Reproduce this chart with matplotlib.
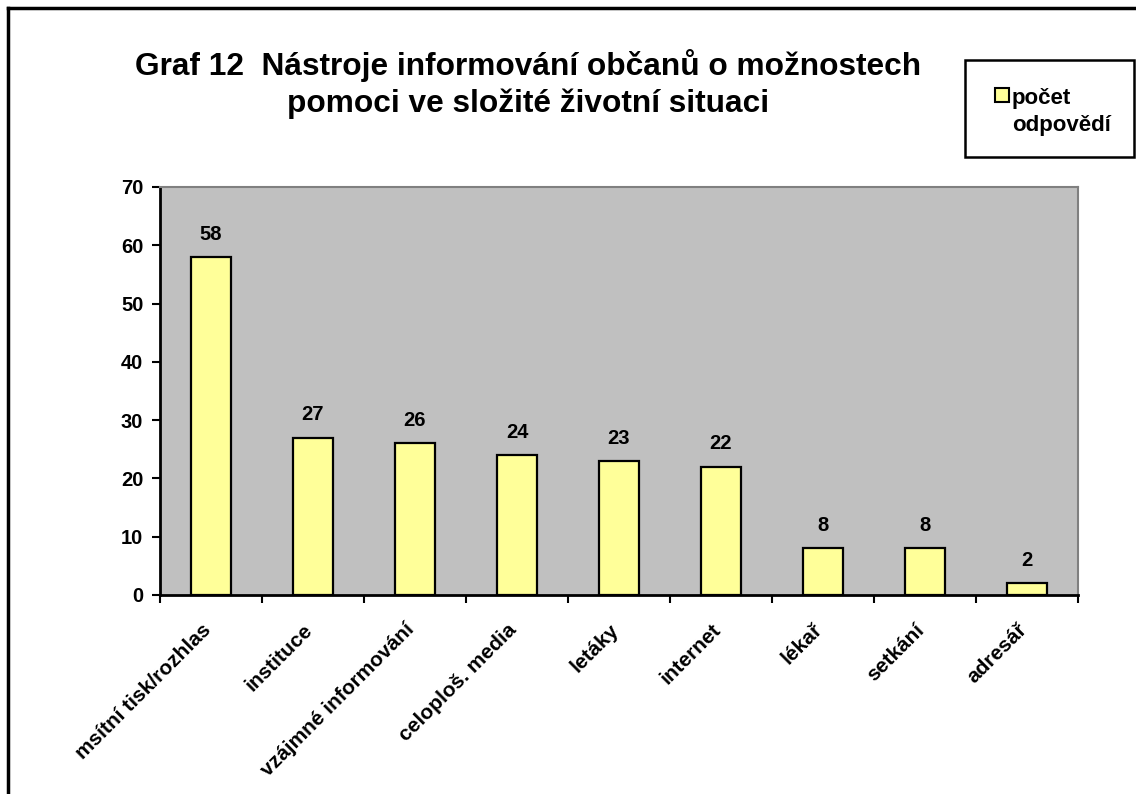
import matplotlib
matplotlib.use("Agg")
import matplotlib.pyplot as plt
from matplotlib.patches import Rectangle
from matplotlib.lines import Line2D
from matplotlib.transforms import ScaledTranslation

plt.rcParams['font.family'] = ['Liberation Sans', 'DejaVu Sans']
plt.rcParams['font.weight'] = 'bold'

categories = ["msítní tisk/rozhlas", "instituce", "vzájmné informování", "celoploš. media",
              "letáky", "internet", "lékař", "setkání", "adresář"]
values = [58, 27, 26, 24, 23, 22, 8, 8, 2]
yticks = [0, 10, 20, 30, 40, 50, 60, 70]
series_name = "počet\nodpovědí"
title = "Graf 12  Nástroje informování občanů o možnostech\npomoci ve složité životní situaci"

W, H = 1136, 794
fig = plt.figure(figsize=(W / 100, H / 100), dpi=100)
ax = fig.add_axes([160 / W, 1 - 595 / H, (1078 - 160) / W, (595 - 187) / H])
ax.set_facecolor('#C0C0C0')

x = list(range(len(categories)))
ax.bar(x, values, width=0.39, color='#FFFF99', edgecolor='black', linewidth=1.6, zorder=3)
for xi, v in zip(x, values):
    ax.text(xi, v + 2.3, str(v), ha='center', va='bottom', fontsize=14.5, fontweight='bold')

ax.set_xlim(-0.5, len(categories) - 0.5)
ax.set_ylim(0, 70)
ax.set_yticks(yticks)
ax.set_yticklabels([str(t) for t in yticks], fontsize=14.5, fontweight='bold')
ax.set_xticks([i - 0.5 for i in range(len(categories) + 1)])
ax.set_xticklabels([])

# category labels, rotated 45 degrees, anchored at their upper-right end
lab_trans = ax.get_xaxis_transform() + ScaledTranslation(-0.10, -0.25, fig.dpi_scale_trans)
for xi, c in zip(x, categories):
    ax.text(xi, 0, c, transform=lab_trans, rotation=45, rotation_mode='anchor',
            ha='right', va='top', fontsize=15, fontweight='bold', clip_on=False)

ax.tick_params(axis='x', which='major', length=6, width=1.5, direction='out')
ax.tick_params(axis='y', length=6, width=1.5, direction='out', pad=6)

for s in ['left', 'bottom']:
    ax.spines[s].set_linewidth(2)
    ax.spines[s].set_color('black')
for s in ['top', 'right']:
    ax.spines[s].set_linewidth(1.5)
    ax.spines[s].set_color('#808080')

fig.text(528 / W, 1 - 84 / H, title, ha='center', va='center', fontsize=22.8,
         fontweight='bold', linespacing=1.25)

# outer border (top and left)
fig.add_artist(Line2D([8 / W, 1.0], [1 - 8 / H, 1 - 8 / H], color='black', lw=2.5,
                      transform=fig.transFigure))
fig.add_artist(Line2D([8 / W, 8 / W], [1 - 8 / H, 0], color='black', lw=2.5,
                      transform=fig.transFigure))

# legend box
fig.add_artist(Rectangle((965 / W, 1 - 157 / H), (1134 - 965) / W, (157 - 60) / H,
                         transform=fig.transFigure, facecolor='white', edgecolor='black', lw=1.8))
fig.add_artist(Rectangle((995 / W, 1 - 102 / H), 14 / W, 14 / H,
                         transform=fig.transFigure, facecolor='#FFFF99', edgecolor='black', lw=1.5))
fig.text(1012 / W, 1 - 112 / H, series_name, ha='left', va='center', fontsize=16,
         fontweight='bold', linespacing=1.4)

fig.savefig('out.png', dpi=100, facecolor='white')
